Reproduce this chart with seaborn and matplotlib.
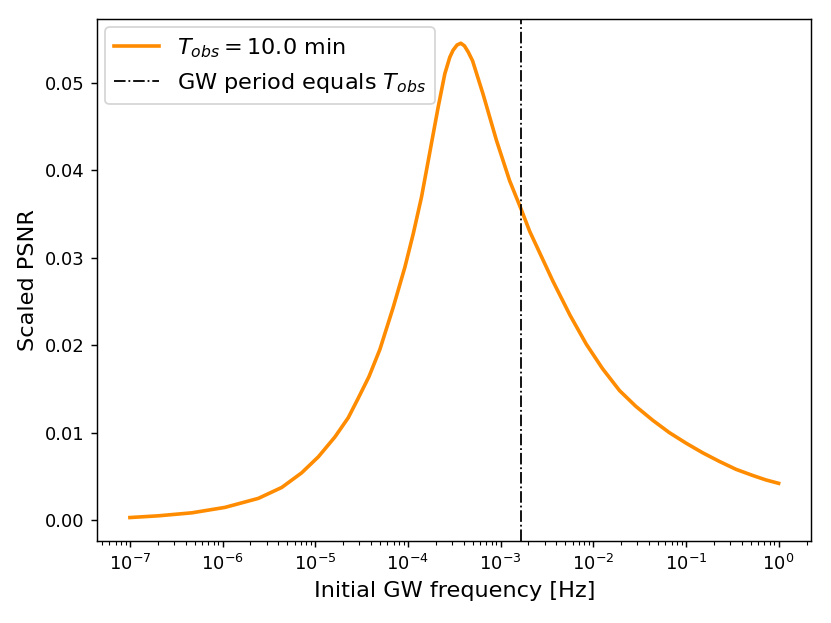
import matplotlib
matplotlib.use("Agg")
import matplotlib.pyplot as plt
import seaborn as sns
import pandas as pd

# Data
freq_hz = [1.00e-7, 2.04e-7, 4.66e-7, 1.06e-6, 2.43e-6, 4.35e-6, 7.13e-6, 1.08e-5,
           1.63e-5, 2.27e-5, 2.90e-5, 3.80e-5, 4.98e-5, 6.93e-5, 9.27e-5, 1.14e-4,
           1.40e-4, 1.72e-4, 2.12e-4, 2.50e-4, 2.83e-4, 3.07e-4, 3.39e-4, 3.72e-4,
           4.07e-4, 4.47e-4, 4.98e-4, 6.46e-4, 9.02e-4, 1.25e-3, 1.67e-3, 2.06e-3,
           3.67e-3, 5.62e-3, 8.41e-3, 1.26e-2, 1.92e-2, 2.88e-2, 4.39e-2, 6.61e-2,
           1.00e-1, 1.51e-1, 2.30e-1, 3.47e-1, 5.25e-1, 7.24e-1, 1.0]
psnr = [0.00029, 0.00049, 0.00083, 0.00145, 0.00248, 0.00373, 0.0054, 0.00723,
        0.0095, 0.0117, 0.0139, 0.0164, 0.0195, 0.0243, 0.0289, 0.0327,
        0.0369, 0.0420, 0.0472, 0.0510, 0.0529, 0.0537, 0.0543, 0.0545,
        0.0542, 0.0535, 0.0525, 0.0487, 0.0434, 0.0388, 0.0355, 0.0330,
        0.0273, 0.0234, 0.0201, 0.0173, 0.0148, 0.0130, 0.0114, 0.0100,
        0.0088, 0.0077, 0.0067, 0.0058, 0.0051, 0.0046, 0.0042]
t_obs_min = 10.0

plt.rcParams["font.size"] = 12.4
plt.rcParams["xtick.labelsize"] = 10
plt.rcParams["ytick.labelsize"] = 10

df = pd.DataFrame({"freq": freq_hz, "psnr": psnr})

fig = plt.figure(figsize=(831 / 130, 623 / 130), dpi=130)
ax = fig.add_axes([0.1173, 0.1312, 0.976 - 0.1173, 0.9687 - 0.1312])

sns.lineplot(data=df, x="freq", y="psnr", ax=ax, color="darkorange", lw=2,
             label=r"$T_{obs} = $" + f"{t_obs_min:.1f} min")
ax.set_xscale("log")
ax.axvline(1.0 / (t_obs_min * 60.0), color="black", ls="-.", lw=1,
           label=r"GW period equals $T_{obs}$")

ax.set_xlabel("Initial GW frequency [Hz]")
ax.set_ylabel("Scaled PSNR")
ax.legend(loc="upper left", borderaxespad=0.35)

fig.savefig("out.png", dpi=130)
